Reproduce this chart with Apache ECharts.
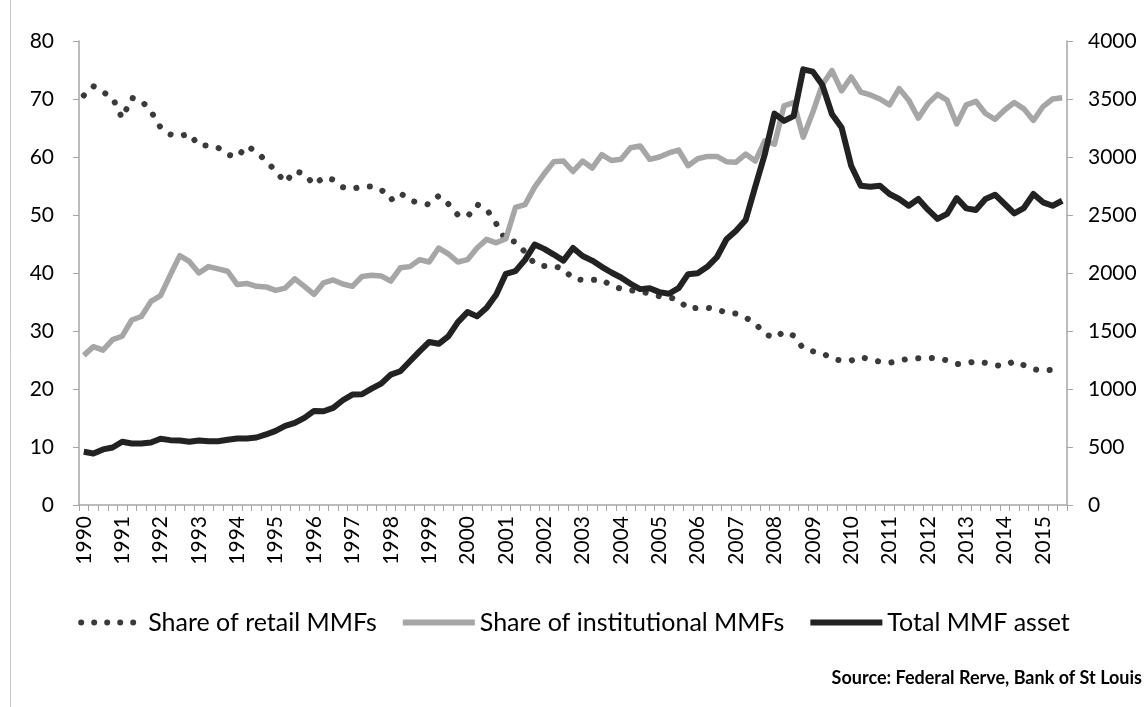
<!DOCTYPE html>
<html>
<head>
<meta charset="utf-8">
<script src="https://cdn.jsdelivr.net/npm/echarts@6/dist/echarts.min.js"></script>
<style>
  html, body { margin: 0; padding: 0; background: #fff; }
  #mmf-chart { width: 1148px; height: 707px; }
</style>
</head>
<body>
<div id="mmf-chart"></div>
<script>
// quarterly, 1990Q1 .. 2015Q3
var years = ['1990','1991','1992','1993','1994','1995','1996','1997','1998','1999','2000','2001','2002',
             '2003','2004','2005','2006','2007','2008','2009','2010','2011','2012','2013','2014','2015'];

var retailShare = [
  70.6, 72.2, 71.2, 70.2, 66.7, 70.2, 69.7, 67.9, 65.1, 63.9, 63.6, 64.0, 62.0, 62.0, 61.6, 60.4,
  60.0, 61.9, 60.9, 59.3, 57.6, 55.6, 57.6, 57.1, 55.2, 56.5, 56.1, 54.8, 54.5, 54.9, 54.9, 54.4,
  52.6, 53.8, 52.5, 52.1, 51.8, 53.3, 51.9, 50.0, 49.7, 51.8, 51.0, 48.5, 45.6, 45.4, 43.6, 41.6,
  41.2, 41.2, 40.7, 39.0, 38.8, 38.8, 38.9, 37.8, 37.3, 37.0, 36.9, 36.4, 36.0, 35.8, 35.4, 33.8,
  34.0, 34.0, 33.8, 33.1, 33.0, 32.3, 31.3, 29.5, 28.8, 29.9, 29.2, 27.0, 26.5, 26.2, 25.2, 24.9,
  24.9, 25.5, 25.1, 24.7, 24.5, 24.9, 25.2, 25.3, 25.3, 25.4, 24.9, 24.3, 24.4, 24.8, 24.5, 24.1,
  24.0, 24.8, 24.1, 23.4, 23.2, 23.3, 23.3
];

var institutionalShare = [
  25.8, 27.3, 26.7, 28.5, 29.1, 31.9, 32.5, 35.1, 36.1, 39.6, 43.0, 42.0, 40.0, 41.1, 40.7, 40.3,
  38.0, 38.2, 37.7, 37.6, 37.0, 37.4, 39.0, 37.7, 36.3, 38.3, 38.8, 38.1, 37.7, 39.4, 39.6, 39.5,
  38.6, 40.9, 41.1, 42.3, 41.9, 44.3, 43.3, 41.9, 42.3, 44.3, 45.8, 45.2, 45.9, 51.3, 51.8, 54.8,
  57.1, 59.2, 59.3, 57.5, 59.3, 58.1, 60.4, 59.4, 59.6, 61.6, 61.9, 59.6, 60.0, 60.7, 61.2, 58.5,
  59.7, 60.1, 60.1, 59.2, 59.1, 60.5, 59.3, 62.8, 62.2, 68.8, 69.4, 63.4, 67.7, 72.5, 74.9, 71.4,
  73.8, 71.2, 70.7, 70.0, 69.0, 71.8, 69.8, 66.7, 69.2, 70.8, 69.8, 65.7, 69.0, 69.6, 67.5, 66.5,
  68.1, 69.4, 68.3, 66.3, 68.7, 70.0, 70.2
];

var totalAssets = [
  459, 444, 479, 496, 545, 530, 530, 539, 571, 559, 556, 545, 556, 550, 550, 562,
  573, 573, 582, 608, 639, 682, 708, 751, 811, 808, 837, 903, 952, 955, 1003, 1046,
  1124, 1153, 1239, 1325, 1405, 1390, 1454, 1577, 1663, 1626, 1700, 1815, 1993, 2016, 2113, 2245,
  2208, 2159, 2107, 2216, 2147, 2107, 2053, 2004, 1961, 1907, 1861, 1869, 1835, 1821, 1869, 1990,
  1998, 2053, 2136, 2291, 2365, 2457, 2744, 3025, 3374, 3311, 3352, 3756, 3736, 3620, 3369, 3254,
  2924, 2752, 2744, 2752, 2681, 2638, 2580, 2638, 2546, 2466, 2509, 2646, 2557, 2543, 2638, 2675,
  2595, 2514, 2560, 2681, 2609, 2580, 2623
];

var quarters = [];
for (var i = 0; i < retailShare.length; i++) {
  quarters.push(years[Math.floor(i / 4)] + 'Q' + (i % 4 + 1));
}

var fontName = 'Lato, "Open Sans", sans-serif';
var axisGrey = '#a6a6a6';

// legend icon for the dotted series: five round dots
var dotIcon = 'path://M0,3a3,3 0 1,0 6,0a3,3 0 1,0 -6,0Z' +
              'M13,3a3,3 0 1,0 6,0a3,3 0 1,0 -6,0Z' +
              'M26,3a3,3 0 1,0 6,0a3,3 0 1,0 -6,0Z' +
              'M39,3a3,3 0 1,0 6,0a3,3 0 1,0 -6,0Z' +
              'M52,3a3,3 0 1,0 6,0a3,3 0 1,0 -6,0Z';

var chart = echarts.init(document.getElementById('mmf-chart'));

var option = {
  backgroundColor: '#fff',
  animation: false,
  textStyle: { fontFamily: fontName },
  grid: { left: 79, right: 81, top: 41, bottom: 202, containLabel: false },
  legend: {
    top: 605,
    left: 'center',
    itemWidth: 72,
    itemHeight: 6,
    itemGap: 26,
    textStyle: { fontSize: 25, color: '#000', fontFamily: fontName },
    data: [
      { name: 'Share of retail MMFs', icon: dotIcon },
      { name: 'Share of institutional MMFs', icon: 'rect' },
      { name: 'Total MMF asset', icon: 'rect' }
    ]
  },
  graphic: [
    { type: 'line', shape: { x1: 10.5, y1: 0, x2: 10.5, y2: 707 }, style: { stroke: '#c8c8c8', lineWidth: 1 } },
    {
      type: 'text', right: 6, top: 669,
      style: { text: 'Source: Federal Rerve, Bank of St Louis', font: 'bold 18px ' + fontName, fill: '#000' }
    }
  ],
  xAxis: {
    type: 'category',
    boundaryGap: true,
    data: quarters,
    axisLine: { lineStyle: { color: axisGrey, width: 1.5 } },
    axisTick: { show: true, interval: 0, length: 6, lineStyle: { color: axisGrey } },
    axisLabel: {
      interval: 3,
      rotate: 90,
      margin: 11,
      fontSize: 21,
      color: '#000',
      fontFamily: fontName,
      formatter: function (v) { return v.slice(0, 4); }
    },
    splitLine: { show: false }
  },
  yAxis: [
    {
      type: 'value', min: 0, max: 80, interval: 10,
      axisLine: { show: true, lineStyle: { color: axisGrey, width: 1.5 } },
      axisTick: { show: true, length: 6, lineStyle: { color: axisGrey } },
      axisLabel: { fontSize: 21, color: '#000', margin: 25, fontFamily: fontName },
      splitLine: { show: false }
    },
    {
      type: 'value', min: 0, max: 4000, interval: 500,
      axisLine: { show: true, lineStyle: { color: axisGrey, width: 1.5 } },
      axisTick: { show: true, length: 6, lineStyle: { color: axisGrey } },
      axisLabel: {
        fontSize: 21, color: '#000', margin: 21, fontFamily: fontName,
        formatter: function (v) { return String(v); }
      },
      splitLine: { show: false }
    }
  ],
  series: [
    {
      name: 'Share of retail MMFs',
      type: 'line',
      yAxisIndex: 0,
      data: retailShare,
      symbol: 'none',
      color: '#3a3a3a',
      lineStyle: { color: '#3a3a3a', width: 6, type: [0.1, 13.5], cap: 'round' }
    },
    {
      name: 'Share of institutional MMFs',
      type: 'line',
      yAxisIndex: 0,
      data: institutionalShare,
      symbol: 'none',
      color: '#a6a6a6',
      lineStyle: { color: '#a6a6a6', width: 5.5, join: 'round' }
    },
    {
      name: 'Total MMF asset',
      type: 'line',
      yAxisIndex: 1,
      data: totalAssets,
      symbol: 'none',
      color: '#222222',
      lineStyle: { color: '#222222', width: 6, join: 'round' }
    }
  ]
};

chart.setOption(option);
</script>
</body>
</html>
